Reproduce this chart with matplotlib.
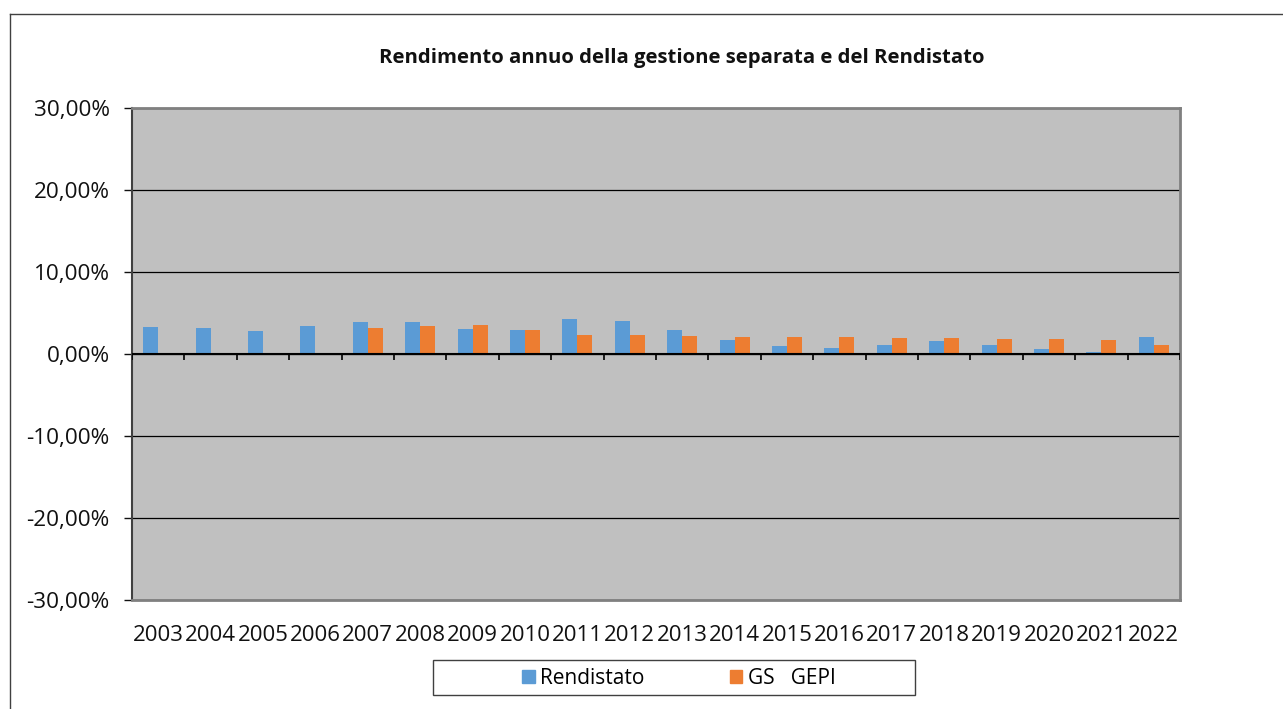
import matplotlib
matplotlib.use("Agg")
import matplotlib.pyplot as plt
import numpy as np
from matplotlib.patches import Rectangle, Patch
from matplotlib.ticker import FuncFormatter

plt.rcParams['font.family'] = ['Open Sans', 'DejaVu Sans']

years = [str(y) for y in range(2003, 2023)]
rendistato = [3.29, 3.13, 2.76, 3.37, 3.86, 3.90, 3.05, 2.93, 4.27, 4.02,
              2.93, 1.75, 0.98, 0.73, 1.06, 1.59, 1.14, 0.61, 0.28, 2.07]
gs_gepi = [np.nan, np.nan, np.nan, np.nan, 3.21, 3.41, 3.54, 2.89, 2.32, 2.32,
           2.20, 2.07, 2.07, 2.11, 1.99, 1.95, 1.87, 1.83, 1.71, 1.10]

W, H = 1283, 709
fig = plt.figure(figsize=(W/100, H/100), dpi=100)
fig.patch.set_facecolor('white')

# outer chart border
fig.add_artist(plt.Line2D([10/W, 10/W], [0, 1-14/H], color='#404040', lw=1.0))
fig.add_artist(plt.Line2D([10/W, 1], [1-14/H, 1-14/H], color='#404040', lw=1.0))

ax = fig.add_axes([132/W, 1-600/H, (1180-132)/W, (600-108)/H])
ax.set_facecolor('#C0C0C0')

x = np.arange(len(years))
bw = 0.286
ax.bar(x - bw/2, rendistato, bw, color='#5B9BD5', label='Rendistato', zorder=3)
ax.bar(x + bw/2, gs_gepi, bw, color='#ED7D31', label='GS   GEPI', zorder=3)

ax.set_xlim(-0.5, len(years) - 0.5)
ax.set_ylim(-30, 30)
ax.set_yticks(np.arange(-30, 31, 10))
ax.yaxis.set_major_formatter(FuncFormatter(lambda v, p: f"{v:.2f}%".replace('.', ',')))
ax.yaxis.grid(True, color='black', lw=0.9, zorder=1)
ax.set_axisbelow(True)

ax.set_xticks(x)
ax.set_xticklabels(years)
ax.tick_params(axis='x', which='major', length=0, pad=18, labelsize=16, colors='#111111')
ax.tick_params(axis='y', length=6, width=1, direction='out', labelsize=16.2, pad=10, colors='#111111')

# zero line with category-boundary tick marks
ax.axhline(0, color='black', lw=1.5, zorder=4)
bounds = np.arange(-0.5, len(years), 1)
ax.vlines(bounds, -0.75, 0, color='black', lw=1.2, zorder=4)

for s in ['top', 'right', 'bottom']:
    ax.spines[s].set_color('#808080')
    ax.spines[s].set_linewidth(2)
ax.spines['left'].set_color('#404040')
ax.spines['left'].set_linewidth(1.5)

fig.text(682/W, 1-58/H, 'Rendimento annuo della gestione separata e del Rendistato',
         ha='center', va='center', fontsize=14.6, fontweight='bold', color='#111111')

# legend box
fig.add_artist(Rectangle((433/W, 1-695/H), (915-433)/W, 35/H, transform=fig.transFigure,
                         fill=False, edgecolor='#404040', lw=1))
handles = [Patch(color='#5B9BD5', label='Rendistato'), Patch(color='#ED7D31', label='GS   GEPI')]
leg = fig.legend(handles=handles, loc='center left', bbox_to_anchor=(512/W, 1-678/H),
                 ncol=2, frameon=False, fontsize=15, handlelength=0.6, handleheight=0.6,
                 handletextpad=0.25, columnspacing=4.1, borderpad=0.0)
fig.savefig('out.png', dpi=100)
